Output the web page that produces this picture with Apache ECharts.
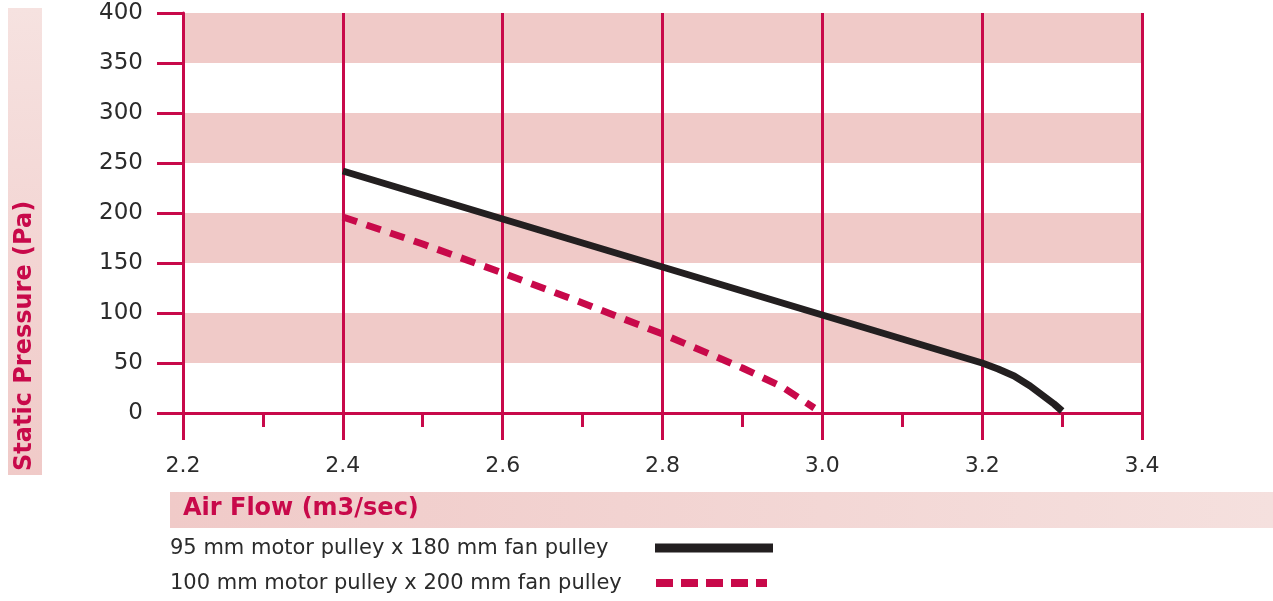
<!DOCTYPE html>
<html><head><meta charset="utf-8">
<script src="https://cdn.jsdelivr.net/npm/echarts@6/dist/echarts.min.js"></script>
<style>html,body{margin:0;padding:0;background:#fff}#c{width:1273px;height:601px}</style>
</head><body><div id="c"></div>
<script>
const seriesNames = ['95 mm motor pulley x 180 mm fan pulley', '100 mm motor pulley x 200 mm fan pulley'];
const blackX = [2.4, 2.5, 2.6, 2.7, 2.8, 2.9, 3.0, 3.1, 3.2, 3.22, 3.24, 3.26, 3.28, 3.29, 3.3];
const blackY = [242, 218, 194, 170, 146, 122, 98, 74, 50, 44, 37, 27, 15, 9, 2];
const redX = [2.4, 2.5, 2.6, 2.7, 2.8, 2.9, 2.95, 2.99];
const redY = [196, 169, 140, 110, 79, 45, 26, 5];
const yTitle = 'Static Pressure (Pa)';
const xTitle = 'Air Flow (m3/sec)';

const RED = '#c8094a';
const PINK = '#f0cac8';
const FONT = 'DejaVu Sans';
const chart = echarts.init(document.getElementById('c'));
const pairs = (xs, ys) => xs.map((x, i) => [x, ys[i]]);

chart.setOption({
  animation: false,
  grid: {left: 183, right: 131, top: 13, bottom: 188, containLabel: false},
  xAxis: {
    type: 'value', min: 2.2, max: 3.4, interval: 0.2,
    axisLine: {show: true, lineStyle: {color: RED, width: 3}},
    axisTick: {show: true, length: 27, lineStyle: {color: RED, width: 3}},
    minorTick: {show: true, splitNumber: 2, length: 14, lineStyle: {color: RED, width: 3}},
    splitLine: {show: true, lineStyle: {color: RED, width: 3}},
    axisLabel: {margin: 42, color: '#2b2b2b', fontSize: 22, fontFamily: FONT,
      formatter: v => v.toFixed(1)}
  },
  yAxis: {
    type: 'value', min: 0, max: 400, interval: 50,
    axisLine: {show: true, lineStyle: {color: RED, width: 3}},
    axisTick: {show: true, length: 26, lineStyle: {color: RED, width: 3}},
    splitLine: {show: false},
    splitArea: {show: true, areaStyle: {color: ['rgba(255,255,255,0)', PINK]}},
    axisLabel: {margin: 40, color: '#2b2b2b', fontSize: 23, fontFamily: FONT}
  },
  series: [
    {name: seriesNames[0], type: 'line', data: pairs(blackX, blackY), smooth: false,
     showSymbol: false, lineStyle: {color: '#231f20', width: 7, cap: 'butt', join: 'round'}, z: 5},
    {name: seriesNames[1], type: 'line', data: pairs(redX, redY), smooth: false,
     showSymbol: false, lineStyle: {color: RED, width: 7, type: [15, 10], cap: 'butt', join: 'round'}, z: 4}
  ],
  graphic: [
    {type: 'rect', left: 8, top: 8, shape: {width: 34, height: 467},
     style: {fill: new echarts.graphic.LinearGradient(0, 0, 0, 1, [{offset: 0, color: '#f6e2e0'}, {offset: 1, color: PINK}])}},
    {type: 'text', x: 25, y: 471, rotation: Math.PI / 2,
     style: {text: yTitle, fill: RED, font: 'bold 24px "' + FONT + '"', textAlign: 'left', textVerticalAlign: 'middle'}},
    {type: 'rect', left: 170, top: 492, shape: {width: 1103, height: 36},
     style: {fill: new echarts.graphic.LinearGradient(0, 0, 1, 0, [{offset: 0, color: PINK}, {offset: 1, color: '#f5e0de'}])}},
    {type: 'text', x: 183, y: 509,
     style: {text: xTitle, fill: RED, font: 'bold 24px "' + FONT + '"', textAlign: 'left', textVerticalAlign: 'middle'}},
    {type: 'text', x: 170, y: 549,
     style: {text: seriesNames[0], fill: '#2b2b2b', font: '21px "' + FONT + '"', textAlign: 'left', textVerticalAlign: 'middle'}},
    {type: 'text', x: 170, y: 584,
     style: {text: seriesNames[1], fill: '#2b2b2b', font: '21px "' + FONT + '"', textAlign: 'left', textVerticalAlign: 'middle'}},
    {type: 'line', shape: {x1: 655, y1: 548, x2: 773, y2: 548}, style: {stroke: '#231f20', lineWidth: 9}},
    {type: 'line', shape: {x1: 656, y1: 583, x2: 767, y2: 583}, style: {stroke: RED, lineWidth: 8, lineDash: [17, 8]}}
  ]
});
</script></body></html>
